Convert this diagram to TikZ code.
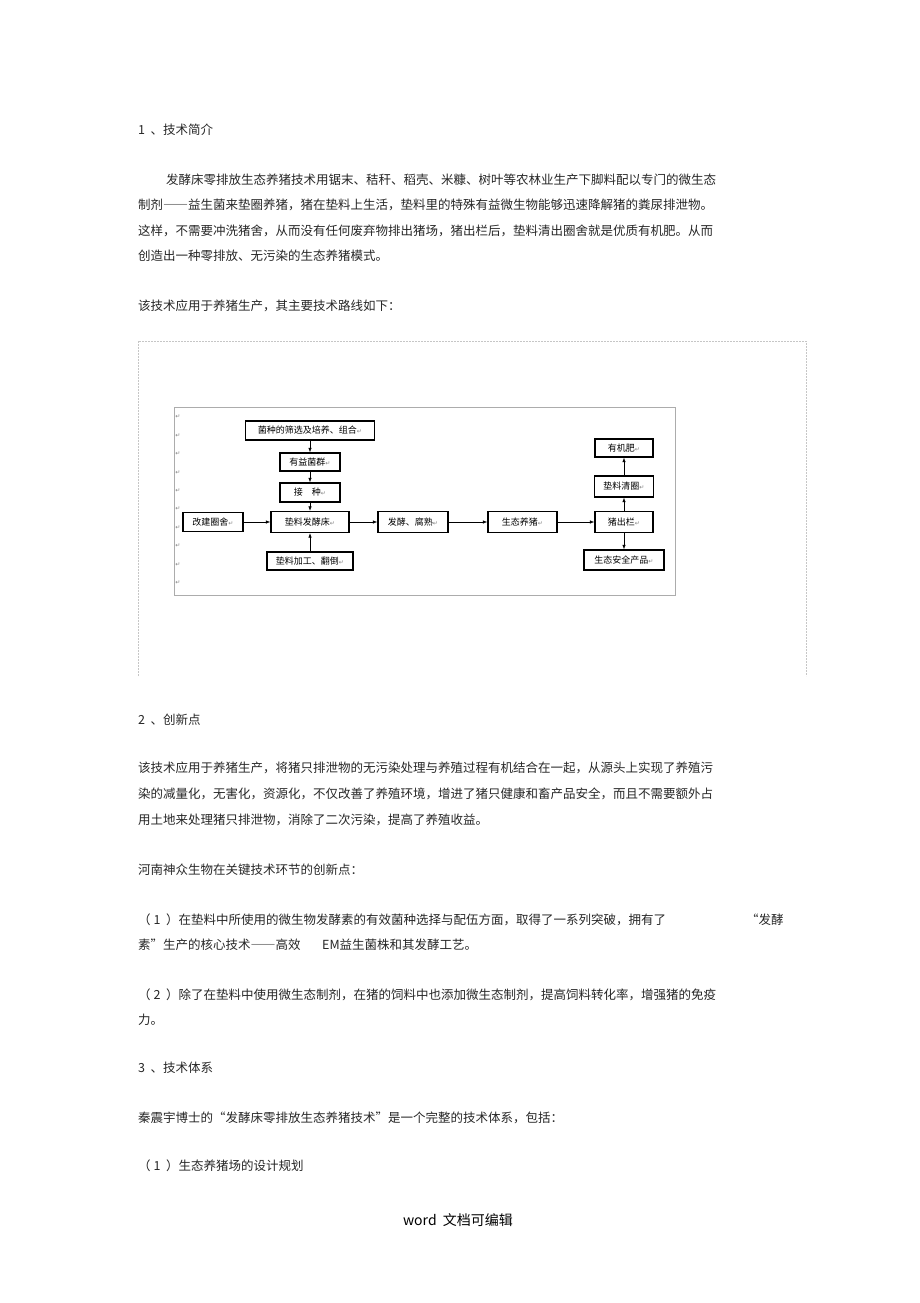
\documentclass[tikz,border=0pt]{standalone}
\usepackage{fontspec}
\setmainfont{Noto Sans CJK SC}
\newfontfamily\symfont{DejaVu Sans}
\usetikzlibrary{arrows.meta}
\newcommand{\pmark}{{\symfont\color{gray}\fontsize{6}{6}\selectfont ↵}}
\newcommand{\fw}[1]{{\addfontfeature{RawFeature=+fwid}#1}}
\tikzset{
  line/.style={anchor=west, inner sep=0pt, text=black!85, font=\fontsize{12.5}{14}\selectfont},
  box/.style={draw, line width=1.4pt, inner sep=0pt, minimum height=19pt, font=\fontsize{9}{10}\selectfont},
  flow/.style={-{Latex[length=4.5pt,width=3.5pt]}, line width=0.6pt},
  frame/.style={draw=gray!45, line width=0.7pt, dash pattern=on 2pt off 1pt},
}
\begin{document}
\begin{tikzpicture}[x=1pt,y=-1pt]
\useasboundingbox (0,0) rectangle (920,1303);

\node [line] (h1) at (138,130) {1 \ 、技术简介};
\node [line] (p1) at (166,180) {发酵床零排放生态养猪技术用锯末、秸秆、稻壳、米糠、树叶等农林业生产下脚料配以专门的微生态};
\node [line] (p2) at (138,205) {制剂\fw{——}益生菌来垫圈养猪，猪在垫料上生活，垫料里的特殊有益微生物能够迅速降解猪的粪尿排泄物。};
\node [line] (p3) at (138,231) {这样，不需要冲洗猪舍，从而没有任何废弃物排出猪场，猪出栏后，垫料清出圈舍就是优质有机肥。从而};
\node [line] (p4) at (138,256) {创造出一种零排放、无污染的生态养猪模式。};
\node [line] (p5) at (138,306) {该技术应用于养猪生产，其主要技术路线如下：};

\draw [frame] (138,676) -- (138,341) -- (806,341) -- (806,676);
\draw [draw=gray!65, line width=1pt] (174,407) rectangle (675,595);
\foreach \i in {0,...,9}
  \node [inner sep=0pt] (t\i) at (178,417+18.4*\i) {\pmark};

\node [box, minimum width=129pt] (seed) at (310,430.5) {菌种的筛选及培养、组合\pmark};
\node [box, minimum width=60pt, minimum height=18pt] (yiyi) at (310,462) {有益菌群\pmark};
\node [box, minimum width=60pt] (jiezhong) at (310,492.5) {接　种\pmark};
\node [box, minimum width=60pt] (gaijian) at (213,522) {改建圈舍\pmark};
\node [box, minimum width=78pt, minimum height=21pt] (chuang) at (310,522) {垫料发酵床\pmark};
\node [box, minimum width=86pt, minimum height=18pt] (jiagong) at (310,561) {垫料加工、翻倒\pmark};
\node [box, minimum width=70pt, minimum height=21pt] (fajiao) at (413,522) {发酵、腐熟\pmark};
\node [box, minimum width=69pt, minimum height=21pt] (yangzhu) at (522.5,522) {生态养猪\pmark};
\node [box, minimum width=58pt, minimum height=21pt] (chulan) at (624,522) {猪出栏\pmark};
\node [box, minimum width=59pt, minimum height=21pt] (qingquan) at (624,486.5) {垫料清圈\pmark};
\node [box, minimum width=58pt, minimum height=18pt] (feiliao) at (624,448) {有机肥\pmark};
\node [box, minimum width=80pt, minimum height=20pt] (chanpin) at (624,560) {生态安全产品\pmark};

\draw [flow] (seed) -- (yiyi);
\draw [flow] (yiyi) -- (jiezhong);
\draw [flow] (jiezhong) -- (chuang);
\draw [flow] (gaijian) -- (chuang);
\draw [flow] (jiagong) -- (chuang);
\draw [flow] (chuang) -- (fajiao);
\draw [flow] (fajiao) -- (yangzhu);
\draw [flow] (yangzhu) -- (chulan);
\draw [flow] (chulan) -- (qingquan);
\draw [flow] (qingquan) -- (feiliao);
\draw [flow] (chulan) -- (chanpin);

\node [line] (h2) at (138,720) {2 \ 、创新点};
\node [line] (q1) at (138,768) {该技术应用于养猪生产，将猪只排泄物的无污染处理与养殖过程有机结合在一起，从源头上实现了养殖污};
\node [line] (q2) at (138,794) {染的减量化，无害化，资源化，不仅改善了养殖环境，增进了猪只健康和畜产品安全，而且不需要额外占};
\node [line] (q3) at (138,820) {用土地来处理猪只排泄物，消除了二次污染，提高了养殖收益。};
\node [line] (q4) at (138,870) {河南神众生物在关键技术环节的创新点：};
\node [line] (q5) at (138,920) {（ 1 \ ）在垫料中所使用的微生物发酵素的有效菌种选择与配伍方面，取得了一系列突破，拥有了};
\node [line] (q5b) at (746,920) {\fw{“}发酵};
\node [line] (q6) at (138,945) {素\fw{”}生产的核心技术\fw{——}高效};
\node [line] (q6b) at (322,945) {EM益生菌株和其发酵工艺。};
\node [line] (q7) at (138,995) {（ 2 \ ）除了在垫料中使用微生态制剂，在猪的饲料中也添加微生态制剂，提高饲料转化率，增强猪的免疫};
\node [line] (q8) at (138,1020) {力。};

\node [line] (h3) at (138,1068) {3 \ 、技术体系};
\node [line] (r1) at (138,1118) {秦震宇博士的\fw{“}发酵床零排放生态养猪技术\fw{”}是一个完整的技术体系，包括：};
\node [line] (r2) at (138,1166) {（ 1 \ ）生态养猪场的设计规划};

\node [inner sep=0pt, font=\fontsize{14}{16}\selectfont] (foot) at (458,1220) {word \ 文档可编辑};

\end{tikzpicture}
\end{document}
